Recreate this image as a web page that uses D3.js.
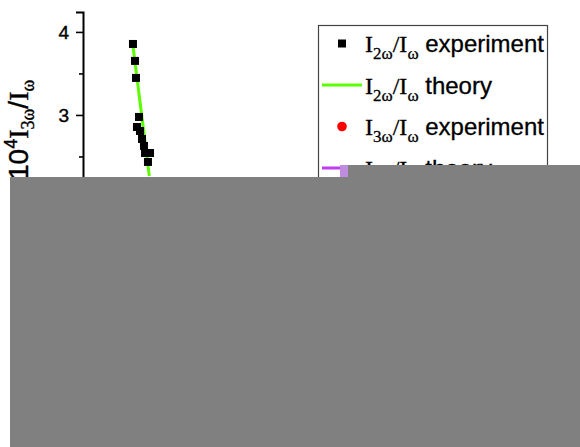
<!DOCTYPE html>
<html>
<head>
<meta charset="utf-8">
<script src="https://cdn.jsdelivr.net/npm/d3@7"></script>
<style>
    body { margin: 0; background: #fff; }
    svg { display: block; }
</style>
</head>
<body>
<div id="canvas"></div>
<script>
// I2w/Iw experiment points (x in arbitrary units, y = 10^4 I/Iw)
var expX = [0.513, 0.534, 0.544, 0.575, 0.554, 0.585, 0.606, 0.626, 0.637, 0.688, 0.667];
var expY = [3.855, 3.651, 3.446, 2.976, 2.855, 2.807, 2.711, 2.627, 2.542, 2.542, 2.434];
// theory curve
var theoryX = [0.513, 0.681];
var theoryY = [3.831, 2.265];
var majorTicks = [2, 3, 4];
var minorTicks = [1.5, 2.5, 3.5];

var sans = "Arial, 'Liberation Sans', sans-serif";
var serif = "'Times New Roman', 'Liberation Serif', serif";

var width = 580, height = 447;

var svg = d3.select("#canvas")
            .append("svg")
                .attr("width", width)
                .attr("height", height);

var xScale = d3.scaleLinear()
            .domain([0, 5])
            .range([83, 570]);

var yScale = d3.scaleLinear()
            .domain([1.5, 4.24])
            .range([239.5, 12]);

// y axis, major + minor ticks
var yAxis = d3.axisLeft(yScale)
            .tickValues(majorTicks)
            .tickSize(7)
            .tickPadding(7)
            .tickFormat(d3.format("d"));

var gy = svg.append("g")
    .attr("transform", "translate(" + xScale(0) + ",0)")
    .call(yAxis);
gy.select(".domain").attr("stroke-width", 2);
gy.selectAll(".tick line").attr("stroke-width", 1.6);
gy.selectAll("text")
    .attr("font-family", sans)
    .attr("font-size", "19px")
    .attr("stroke", "#000")
    .attr("stroke-width", 0.4)
    .attr("fill", "#000");

svg.append("g")
    .attr("transform", "translate(" + xScale(0) + ",0)")
    .call(d3.axisLeft(yScale).tickValues(minorTicks).tickSize(4).tickFormat(""))
    .call(function(g) { g.select(".domain").remove(); })
    .selectAll("line").attr("stroke-width", 1.6);

// y axis label
var ylab = svg.append("text")
    .attr("transform", "translate(28,180) rotate(-90)")
    .attr("font-family", sans)
    .attr("font-size", "28px")
    .attr("stroke", "#000")
    .attr("stroke-width", 0.4)
    .attr("fill", "#000");
ylab.append("tspan").text("10");
ylab.append("tspan").attr("font-size", "18px").attr("dy", "-11").text("4");
ylab.append("tspan").attr("font-family", serif).attr("dy", "11").text("I");
ylab.append("tspan").attr("font-family", serif).attr("font-size", "18px").attr("dy", "6").text("3ω");
ylab.append("tspan").attr("dy", "-6").text("/");
ylab.append("tspan").attr("font-family", serif).text("I");
ylab.append("tspan").attr("font-family", serif).attr("font-size", "18px").attr("dy", "6").text("ω");

// theory line
var line = d3.line()
    .x(function(d) { return xScale(d[0]); })
    .y(function(d) { return yScale(d[1]); });

svg.append("path")
    .datum(d3.zip(theoryX, theoryY))
    .attr("d", line)
    .attr("fill", "none")
    .attr("stroke", "#5cff00")
    .attr("stroke-width", 3);

// experiment squares
svg.selectAll("rect.pt")
    .data(d3.zip(expX, expY))
    .enter().append("rect")
    .attr("class", "pt")
    .attr("x", function(d) { return xScale(d[0]) - 4; })
    .attr("y", function(d) { return yScale(d[1]) - 4; })
    .attr("width", 8)
    .attr("height", 8)
    .attr("fill", "#000");

// legend
var legend = svg.append("g");
legend.append("rect")
    .attr("x", 318.5).attr("y", 25.5)
    .attr("width", 229).attr("height", 200)
    .attr("fill", "#fff")
    .attr("stroke", "#444")
    .attr("stroke-width", 1.2);

var entries = [
    {sub: "2ω", word: "experiment", kind: "square"},
    {sub: "2ω", word: "theory", kind: "green"},
    {sub: "3ω", word: "experiment", kind: "dot"},
    {sub: "3ω", word: "theory", kind: "purple"}
];

entries.forEach(function(e, i) {
    var base = 52 + i * 41.5;
    var cy = base - 8.5;
    if (e.kind == "square") {
        legend.append("rect").attr("x", 338).attr("y", cy - 4).attr("width", 8).attr("height", 8).attr("fill", "#000");
    } else if (e.kind == "dot") {
        legend.append("circle").attr("cx", 342).attr("cy", cy).attr("r", 4.8).attr("fill", "#ff0000");
    } else {
        legend.append("line")
            .attr("x1", 322).attr("x2", 362)
            .attr("y1", cy).attr("y2", cy)
            .attr("stroke", e.kind == "green" ? "#5cff00" : "#c03cf0")
            .attr("stroke-width", 3);
    }
    var t = legend.append("text")
        .attr("x", 365).attr("y", base)
        .attr("font-family", sans)
        .attr("font-size", "24px")
        .attr("stroke", "#000")
        .attr("stroke-width", 0.3)
        .attr("fill", "#000");
    t.append("tspan").attr("font-family", serif).text("I");
    t.append("tspan").attr("font-family", serif).attr("font-size", "17px").attr("dy", "7").text(e.sub);
    t.append("tspan").attr("font-family", serif).attr("dy", "-7").text("/I");
    t.append("tspan").attr("font-family", serif).attr("font-size", "17px").attr("dy", "7").text("ω");
    t.append("tspan").attr("dy", "-7").text(" " + e.word);
});

// grey cover over the lower part of the figure
svg.append("rect").attr("x", 340).attr("y", 165).attr("width", 9).attr("height", 12).attr("fill", "#c08ce0");
svg.append("rect").attr("x", 348).attr("y", 165).attr("width", 232).attr("height", 282).attr("fill", "#808080");
svg.append("rect").attr("x", 10).attr("y", 177).attr("width", 570).attr("height", 270).attr("fill", "#808080");
</script>
</body>
</html>
